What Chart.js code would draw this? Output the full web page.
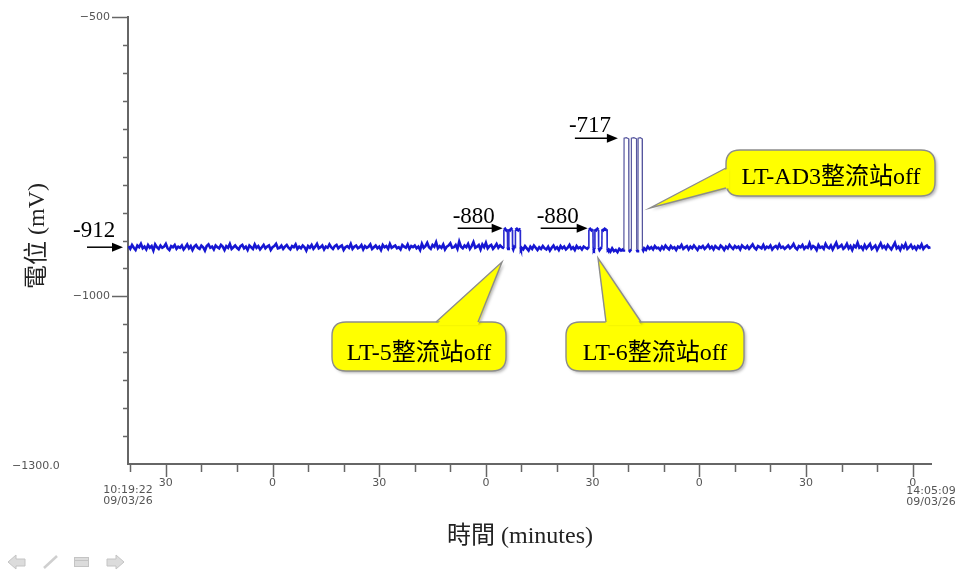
<!DOCTYPE html>
<html><head><meta charset="utf-8">
<script src="https://cdn.jsdelivr.net/npm/chart.js@4/dist/chart.umd.min.js"></script>
<style>html,body{margin:0;padding:0;background:#fff}#wrap{width:966px;height:571px;position:relative}</style>
</head><body><div id="wrap"><canvas id="c" width="966" height="571"></canvas></div>
<script>
// ---- time axis (minutes since midnight) ----
const startMin = 619 + 22 / 60;   // 10:19:22
const endMin = 845 + 9 / 60;      // 14:05:09
const startLabel = ['10:19:22', '09/03/26'];
const endLabel = ['14:05:09', '09/03/26'];
const xTickValues = [620,630,640,650,660,670,680,690,700,710,720,730,740,750,760,770,780,790,800,810,820,830,840];
const yTickValues = [-1250,-1200,-1150,-1100,-1050,-1000,-950,-900,-850,-800,-750,-700,-650,-600,-550,-500];
const yLabelledTicks = [-500, -1000];
const yBottomLabel = '\u22121300.0';

// ---- logged potential (mV), sampled every 0.5 min ----
const sampleStep = 0.5;
const baseStarts = [619.5, 730.0, 754.5, 764.5];
const base1 = [
-910,-915,-908,-913,-917,-909,-912,-906,-914,-911,
-916,-908,-913,-910,-918,-907,-912,-915,-909,-913,
-911,-906,-914,-917,-910,-912,-908,-915,-911,-913,
-909,-916,-912,-907,-914,-910,-917,-911,-908,-913,
-915,-909,-912,-918,-910,-907,-913,-911,-916,-909,
-912,-914,-908,-911,-917,-910,-913,-906,-915,-912,
-909,-913,-916,-910,-908,-914,-911,-917,-909,-912,
-915,-907,-913,-910,-916,-912,-908,-914,-911,-909,
-917,-912,-910,-906,-914,-913,-909,-915,-911,-908,
-913,-916,-910,-912,-907,-915,-911,-914,-909,-912,
-918,-910,-913,-908,-915,-911,-906,-914,-912,-909,
-916,-911,-913,-907,-912,-915,-910,-908,-914,-911,
-909,-917,-912,-910,-913,-906,-915,-911,-909,-914,
-912,-908,-916,-910,-913,-911,-907,-915,-912,-909,
-914,-911,-917,-908,-912,-910,-915,-906,-913,-911,
-909,-914,-912,-916,-908,-911,-913,-907,-915,-910,
-912,-909,-914,-911,-917,-906,-913,-910,-904,-912,
-915,-908,-911,-903,-914,-910,-913,-907,-916,-911,
-909,-905,-913,-912,-908,-915,-902,-911,-914,-909,
-912,-906,-915,-910,-903,-913,-911,-908,-916,-907,
-912,-904,-914,-910,-908,-915,-911,-906,-913,-909,-912];
const base2 = [
-913,-916,-910,-914,-918,-911,-915,-909,-913,-917,
-912,-915,-910,-914,-916,-911,-918,-913,-909,-915,
-912,-917,-910,-914,-911,-916,-913,-908,-915,-912,
-917,-910,-914,-912,-916,-911,-913,-915];
const base3 = [-916,-920,-914,-919,-917,-921,-915,-918,-916];
const base4 = [
-914,-917,-911,-915,-912,-916,-910,-914,-913,-917,
-911,-915,-909,-913,-916,-910,-914,-912,-917,-911,
-913,-908,-915,-912,-910,-916,-911,-914,-909,-913,
-917,-911,-913,-910,-915,-912,-908,-914,-911,-916,
-910,-913,-915,-909,-912,-917,-911,-914,-908,-912,
-915,-910,-913,-911,-916,-909,-912,-914,-910,-915,
-911,-907,-913,-916,-910,-912,-914,-908,-915,-911,
-913,-909,-916,-912,-910,-914,-907,-913,-911,-915,
-912,-909,-914,-911,-906,-913,-916,-910,-912,-908,
-915,-911,-913,-905,-914,-910,-912,-917,-908,-913,
-911,-915,-906,-912,-914,-909,-916,-910,-904,-913,
-911,-908,-915,-912,-906,-914,-910,-917,-909,-912,
-904,-913,-911,-916,-908,-914,-910,-906,-915,-912,
-909,-917,-911,-905,-913,-910,-915,-908,-912,-916,
-910,-904,-914,-911,-917,-909,-913,-906,-915,-912,
-908,-914,-911,-916,-910,-913,-907,-915,-911,-909,
-913,-912];

// ---- interruption pulses (rectifier off) : time (min) / potential (mV) ----
const pulseTimes = [
 724.8,725.0,725.05,725.4,725.75,726.05,726.1,726.25,726.4,726.45,726.8,727.15,727.45,727.5,727.7,727.95,728.25,728.3,728.7,729.1,729.45,729.65,729.7,729.85,
 748.7,748.9,748.95,749.3,749.7,750.1,750.15,750.35,750.6,750.65,751.0,751.35,751.65,751.7,751.95,752.3,752.6,752.65,753.0,753.4,753.8,754.05,754.1,754.3,
 758.65,758.8,758.85,759.5,760.15,760.2,760.45,760.85,760.9,761.6,762.35,762.4,762.6,762.75,762.8,763.4,763.95,764.0,764.25];
const pulseValues = [
 -913,-911,-881,-879,-882,-880,-912,-915,-912,-880,-882,-879,-881,-913,-916,-911,-913,-881,-879,-882,-880,-881,-912,-915,
 -915,-912,-881,-879,-882,-880,-914,-916,-913,-880,-882,-879,-881,-913,-917,-914,-912,-880,-882,-879,-881,-880,-915,-917,
 -918,-916,-717,-716,-718,-917,-919,-916,-717,-716,-718,-916,-919,-917,-717,-716,-718,-915,-918];

// ---- annotation texts ----
const levelLabels = ['-912', '-880', '-880', '-717'];
const calloutTexts = ['LT-5整流站off', 'LT-6整流站off', 'LT-AD3整流站off'];
const yTitle = '電位 (mV)';
const xTitle = '時間 (minutes)';

function buildPoints() {
  const pts = [];
  [base1, base2, base3, base4].forEach((arr, k) => arr.forEach((v, i) => pts.push({x: baseStarts[k] + i * sampleStep, y: v})));
  pulseTimes.forEach((t, i) => pts.push({x: t, y: pulseValues[i]}));
  pts.sort((a, b) => a.x - b.x);
  return pts;
}

const AXIS = '#666';
const TICKFONT = '11px "DejaVu Sans", sans-serif';
const SERIF = '"Liberation Serif", "Noto Sans CJK TC", serif';

function rr(ctx, x, y, w, h, r) {
  ctx.beginPath();
  ctx.moveTo(x + r, y);
  ctx.lineTo(x + w - r, y); ctx.quadraticCurveTo(x + w, y, x + w, y + r);
  ctx.lineTo(x + w, y + h - r); ctx.quadraticCurveTo(x + w, y + h, x + w - r, y + h);
  ctx.lineTo(x + r, y + h); ctx.quadraticCurveTo(x, y + h, x, y + h - r);
  ctx.lineTo(x, y + r); ctx.quadraticCurveTo(x, y, x + r, y);
  ctx.closePath();
}

function callout(ctx, box, b1, tip, b2, inset, text, tx, ty) {
  const [x, y, w, h] = box;
  ctx.save();
  ctx.shadowColor = 'rgba(0,0,0,0.28)'; ctx.shadowBlur = 3; ctx.shadowOffsetX = 2; ctx.shadowOffsetY = 2;
  ctx.fillStyle = '#ffff00';
  rr(ctx, x, y, w, h, 14); ctx.fill();
  ctx.beginPath(); ctx.moveTo(b1[0], b1[1]); ctx.lineTo(tip[0], tip[1]); ctx.lineTo(b2[0], b2[1]); ctx.closePath(); ctx.fill();
  ctx.shadowColor = 'transparent';
  ctx.strokeStyle = '#8c8c8c'; ctx.lineWidth = 1.4;
  rr(ctx, x, y, w, h, 14); ctx.stroke();
  ctx.fillStyle = '#ffff00';
  ctx.beginPath(); ctx.moveTo(b1[0] + inset[0], b1[1] + inset[1]); ctx.lineTo(tip[0], tip[1]); ctx.lineTo(b2[0] + inset[0], b2[1] + inset[1]); ctx.closePath(); ctx.fill();
  ctx.beginPath(); ctx.moveTo(b1[0], b1[1]); ctx.lineTo(tip[0], tip[1]); ctx.lineTo(b2[0], b2[1]); ctx.stroke();
  ctx.fillStyle = '#000'; ctx.font = '24px ' + SERIF; ctx.textAlign = 'center'; ctx.textBaseline = 'alphabetic';
  ctx.fillText(text, tx, ty);
  ctx.restore();
}

function arrow(ctx, x1, x2, y) {
  ctx.save();
  ctx.strokeStyle = '#000'; ctx.fillStyle = '#000'; ctx.lineWidth = 1.5;
  ctx.beginPath(); ctx.moveTo(x1, y); ctx.lineTo(x2 - 8, y); ctx.stroke();
  ctx.beginPath(); ctx.moveTo(x2, y); ctx.lineTo(x2 - 11, y - 4.5); ctx.lineTo(x2 - 11, y + 4.5); ctx.closePath(); ctx.fill();
  ctx.restore();
}

const overlay = {
  id: 'overlay',
  afterDraw(chart) {
    const ctx = chart.ctx;
    const xs = chart.scales.x, ys = chart.scales.y, ca = chart.chartArea;
    ctx.save();
    // y ticks
    ctx.strokeStyle = AXIS; ctx.lineWidth = 1.5;
    yTickValues.forEach(v => {
      const py = Math.round(ys.getPixelForValue(v)) + 0.5;
      const len = yLabelledTicks.includes(v) ? 16 : 5;
      ctx.beginPath(); ctx.moveTo(ca.left - len, py); ctx.lineTo(ca.left, py); ctx.stroke();
    });
    // x ticks
    xTickValues.forEach(v => {
      const px = Math.round(xs.getPixelForValue(v)) + 0.5;
      const len = (v % 30 === 0) ? 13 : 8;
      ctx.beginPath(); ctx.moveTo(px, ca.bottom); ctx.lineTo(px, ca.bottom + len); ctx.stroke();
    });
    // bottom y label and start/end time labels
    ctx.fillStyle = '#555'; ctx.font = TICKFONT; ctx.textBaseline = 'middle';
    ctx.textAlign = 'left'; ctx.fillText(yBottomLabel, 12, ca.bottom + 2);
    ctx.textAlign = 'center';
    const sx = xs.getPixelForValue(startMin), ex = xs.getPixelForValue(endMin);
    ctx.fillText(startLabel[0], sx, 490); ctx.fillText(startLabel[1], sx, 501);
    ctx.fillText(endLabel[0], ex, 491); ctx.fillText(endLabel[1], ex, 502);
    // axis titles
    ctx.fillStyle = '#222'; ctx.font = '24px ' + SERIF;
    ctx.fillText(xTitle, 520, 537);
    ctx.save(); ctx.translate(38, 236); ctx.rotate(-Math.PI / 2); ctx.fillText(yTitle, 0, 0); ctx.restore();
    // level labels + arrows
    ctx.fillStyle = '#000'; ctx.font = '23px ' + SERIF; ctx.textAlign = 'left'; ctx.textBaseline = 'alphabetic';
    const y912 = ys.getPixelForValue(-912), y880 = ys.getPixelForValue(-880), y717 = ys.getPixelForValue(-717);
    arrow(ctx, ca.left - 41, ca.left - 5, y912);
    ctx.fillText(levelLabels[0], 73, y912 - 10);
    const e1 = xs.getPixelForValue(725.0) - 1;
    arrow(ctx, e1 - 45, e1, y880 - 1);
    ctx.fillText(levelLabels[1], e1 - 50, y880 - 6);
    const e2 = xs.getPixelForValue(748.9) - 1;
    arrow(ctx, e2 - 47, e2, y880 - 1);
    ctx.fillText(levelLabels[2], e2 - 51, y880 - 6);
    const e3 = xs.getPixelForValue(758.8) - 6;
    arrow(ctx, e3 - 43, e3, y717);
    ctx.fillText(levelLabels[3], e3 - 49, y717 - 6);
    // callouts
    callout(ctx, [332, 322, 174, 49], [436, 322], [502, 262], [478, 322], [0, 3], calloutTexts[0], 419, 360);
    callout(ctx, [566, 322, 178, 49], [606, 322], [598, 258], [641, 322], [0, 3], calloutTexts[1], 655, 360);
    callout(ctx, [726, 150, 209, 46], [726, 168], [650, 208], [726, 188], [3, 0], calloutTexts[2], 831, 184);
    // slide-show control icons
    ctx.fillStyle = '#dcdcdc'; ctx.strokeStyle = '#c4c4c4'; ctx.lineWidth = 1;
    ctx.beginPath(); ctx.moveTo(8, 562); ctx.lineTo(16, 555); ctx.lineTo(16, 559); ctx.lineTo(25, 559); ctx.lineTo(25, 566); ctx.lineTo(16, 566); ctx.lineTo(16, 569); ctx.closePath(); ctx.fill(); ctx.stroke();
    ctx.beginPath(); ctx.moveTo(124, 562); ctx.lineTo(116, 555); ctx.lineTo(116, 559); ctx.lineTo(107, 559); ctx.lineTo(107, 566); ctx.lineTo(116, 566); ctx.lineTo(116, 569); ctx.closePath(); ctx.fill(); ctx.stroke();
    ctx.fillRect(74, 557, 15, 10); ctx.strokeRect(74.5, 557.5, 14, 9);
    ctx.beginPath(); ctx.moveTo(75, 560.5); ctx.lineTo(88, 560.5); ctx.stroke();
    ctx.lineWidth = 2.5; ctx.strokeStyle = '#cfcfcf';
    ctx.beginPath(); ctx.moveTo(44, 568); ctx.lineTo(57, 556); ctx.stroke();
    ctx.restore();
  }
};

const isHigh = c => c.p0.parsed.y > -850 || c.p1.parsed.y > -850;
const isJump = c => Math.abs(c.p0.parsed.y - c.p1.parsed.y) > 20;

new Chart(document.getElementById('c'), {
  type: 'line',
  data: { datasets: [{
    data: buildPoints(),
    borderColor: '#1616d2', borderWidth: 2.6, pointRadius: 0, tension: 0, fill: false,
    segment: {
      borderWidth: c => isHigh(c) ? 1.2 : (isJump(c) ? 1.6 : 2.6),
      borderColor: c => isHigh(c) ? '#55559e' : (isJump(c) ? '#2a2ad0' : '#1616d2')
    }
  }]},
  options: {
    responsive: false, animation: false, devicePixelRatio: 1,
    layout: { padding: { left: 0, top: 17, right: 35, bottom: 0 } },
    plugins: { legend: { display: false }, tooltip: { enabled: false } },
    scales: {
      x: {
        type: 'linear', min: startMin, max: endMin,
        afterBuildTicks: s => { s.ticks = xTickValues.map(v => ({ value: v })); },
        afterFit: s => { s.height = 107; s.paddingLeft = 0; s.paddingRight = 0; },
        ticks: { autoSkip: false, maxRotation: 0, padding: 13, color: '#555', font: { family: '"DejaVu Sans", sans-serif', size: 11 },
          callback: v => (v % 60 === 0 ? '0' : (v % 60 === 30 ? '30' : '')) },
        grid: { drawOnChartArea: false, drawTicks: false },
        border: { color: AXIS, width: 2 }
      },
      y: {
        min: -1300, max: -500,
        afterBuildTicks: s => { s.ticks = yTickValues.map(v => ({ value: v })); },
        afterFit: s => { s.width = 128; s.paddingTop = 0; s.paddingBottom = 0; },
        ticks: { autoSkip: false, padding: 18, color: '#555', font: { family: '"DejaVu Sans", sans-serif', size: 11 },
          callback: v => (yLabelledTicks.includes(v) ? '\u2212' + Math.abs(v) : '') },
        grid: { drawOnChartArea: false, drawTicks: false },
        border: { color: AXIS, width: 2 }
      }
    }
  },
  plugins: [overlay]
});
</script></body></html>
